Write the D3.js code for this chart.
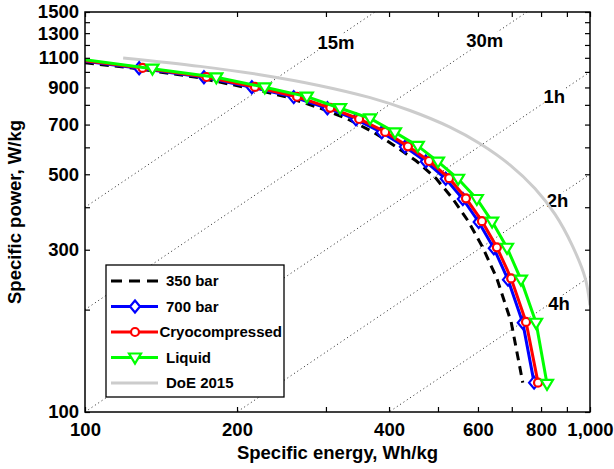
<!DOCTYPE html>
<html>
<head>
<meta charset="utf-8">
<script src="https://cdn.jsdelivr.net/npm/d3@7"></script>
<style>
  body { margin: 0; background: #fff; }
  text { font-family: 'Liberation Sans', Arial, Helvetica, sans-serif; font-weight: bold; fill: #000; }
</style>
</head>
<body>
<div id="chart"></div>
<script>
// axis ticks
const energyTicks = [100, 200, 300, 400, 500, 600, 700, 800, 900, 1000]
const energyLabels = [100, 200, 400, 600, 800, 1000]
const powerTicks = [100, 200, 300, 400, 500, 600, 700, 800, 900, 1000, 1100, 1200, 1300, 1400, 1500]
const powerLabels = [100, 300, 500, 700, 900, 1100, 1300, 1500]

// discharge time guides (hours) and where their labels sit
const durations = [0.25, 0.5, 1, 2, 4]
const durationNames = ['15m', '30m', '1h', '2h', '4h']
const durationLabelEnergy = [314, 619, 850, 862, 868]
const durationLabelPower = [1225, 1242, 847, 419, 208]

// series (first point is where each line enters at the left axis)
const bar350Energy = [100, 124, 165, 206, 250, 291, 331, 372, 412, 453, 495, 534, 574, 613, 654, 698, 736]
const bar350Power = [1063, 1027, 966, 903, 845, 784, 727, 666, 604, 547, 487, 425, 364, 305, 247, 184, 122]
const bar700Energy = [100, 128, 172, 214, 259, 302, 344, 387, 430, 473, 518, 560, 602, 645, 688, 736, 775]
const bar700Power = [1075, 1025, 964, 901, 843, 782, 725, 664, 602, 545, 485, 423, 362, 303, 245, 183, 122]
const cryoEnergy = [100, 130, 174, 217, 263, 306, 349, 393, 436, 480, 526, 568, 611, 654, 698, 747, 789]
const cryoPower = [1078, 1027, 966, 903, 845, 784, 727, 666, 604, 547, 487, 425, 364, 305, 247, 184, 122]
const liquidEnergy = [100, 136, 182, 227, 275, 320, 367, 411, 456, 500, 548, 597, 640, 685, 730, 782, 822]
const liquidPower = [1085, 1022, 964, 901, 846, 782, 730, 664, 606, 545, 485, 423, 363, 304, 245, 183, 121]
const doeEnergy = [119, 169, 222, 292, 367, 440, 528, 606, 694, 778, 853, 921, 978, 1000]
const doePower = [1099, 1038, 981, 911, 840, 770, 688, 615, 533, 454, 381, 310, 248, 206]

const series = [
  { name: '350 bar', energy: bar350Energy, power: bar350Power, color: '#000', dash: '9,6', marker: null },
  { name: '700 bar', energy: bar700Energy, power: bar700Power, color: '#0000ff', dash: null, marker: 'diamond' },
  { name: 'Cryocompressed', energy: cryoEnergy, power: cryoPower, color: '#ff0000', dash: null, marker: 'circle' },
  { name: 'Liquid', energy: liquidEnergy, power: liquidPower, color: '#00ff00', dash: null, marker: 'triangle' },
  { name: 'DoE 2015', energy: doeEnergy, power: doePower, color: '#cccccc', dash: null, marker: null, smooth: true }
]

const width = 614
const height = 469
const margin = { top: 12, right: 24, bottom: 57, left: 85 }
const innerW = width - margin.left - margin.right
const innerH = height - margin.top - margin.bottom

const svg = d3.select('#chart')
  .append('svg')
  .attr('width', width)
  .attr('height', height)

const xScale = d3.scaleLog().domain([100, 1000]).range([margin.left, margin.left + innerW])
const yScale = d3.scaleLog().domain([100, 1500]).range([margin.top + innerH, margin.top])

svg.append('clipPath').attr('id', 'plotClip')
  .append('rect')
  .attr('x', margin.left).attr('y', margin.top)
  .attr('width', innerW).attr('height', innerH)

const plot = svg.append('g').attr('clip-path', 'url(#plotClip)')

// dotted constant-time lines
const guideLine = d3.line().x((d) => xScale(d[0])).y((d) => yScale(d[1]))
plot.append('g')
  .selectAll('path')
  .data(durations)
  .join('path')
  .attr('d', (t) => guideLine([[100, 100 / t], [1000, 1000 / t]]))
  .attr('fill', 'none')
  .attr('stroke', '#222')
  .attr('stroke-width', 1)
  .attr('stroke-dasharray', '1,3')

const labelGroup = plot.append('g')
durationNames.forEach((name, i) => {
  const g = labelGroup.append('g')
  const bg = g.append('rect').attr('fill', '#fff')
  const t = g.append('text')
    .attr('x', xScale(durationLabelEnergy[i]))
    .attr('y', yScale(durationLabelPower[i]))
    .attr('dy', '0.36em')
    .attr('text-anchor', 'middle')
    .attr('font-size', 18.5)
    .text(name)
  const b = t.node().getBBox()
  bg.attr('x', b.x).attr('y', b.y + 2).attr('width', b.width).attr('height', b.height - 4)
})

const markerPath = {
  diamond: 'M0,-6L5,0L0,6L-5,0Z',
  circle: d3.symbol(d3.symbolCircle, Math.PI * 16)(),
  triangle: 'M-6,-4L6,-4L0,6Z'
}

function drawSeries(g, s) {
  const pts = s.energy.map((e, i) => [e, s.power[i]])
  const line = d3.line()
    .x((d) => xScale(d[0]))
    .y((d) => yScale(d[1]))
    .curve(s.smooth ? d3.curveCatmullRom : d3.curveLinear)
  g.append('path')
    .attr('d', line(pts))
    .attr('fill', 'none')
    .attr('stroke', s.color)
    .attr('stroke-width', 3)
    .attr('stroke-dasharray', s.dash)
  if (s.marker) {
    g.selectAll('.mk')
      .data(pts.slice(1))
      .join('path')
      .attr('class', 'mk')
      .attr('transform', (d) => `translate(${xScale(d[0])},${yScale(d[1])})`)
      .attr('d', markerPath[s.marker])
      .attr('fill', '#fff')
      .attr('stroke', s.color)
      .attr('stroke-width', 2.2)
  }
}

// DoE behind the others
drawSeries(plot.append('g'), series[4])
series.slice(0, 4).forEach((s) => drawSeries(plot.append('g'), s))

// axes, ticks pointing inwards on all four sides
const fmtEnergy = (d) => (energyLabels.includes(d) ? d3.format(',')(d) : '')
const fmtPower = (d) => (powerLabels.includes(d) ? d : '')

const axisStyle = (g) => {
  g.select('.domain').remove()
  g.selectAll('.tick line').attr('stroke', '#000').attr('stroke-width', 1.2)
  g.selectAll('.tick text').attr('font-size', 18.5).attr('fill', '#000')
    .style('font-family', "'Liberation Sans', Arial, sans-serif").style('font-weight', 'bold')
}

svg.append('g')
  .attr('transform', `translate(0,${margin.top + innerH})`)
  .call(d3.axisBottom(xScale).tickValues(energyTicks).tickFormat(fmtEnergy).tickSize(-5).tickPadding(11))
  .call(axisStyle)
svg.append('g')
  .attr('transform', `translate(0,${margin.top})`)
  .call(d3.axisTop(xScale).tickValues(energyTicks).tickFormat('').tickSize(-5))
  .call(axisStyle)
svg.append('g')
  .attr('transform', `translate(${margin.left},0)`)
  .call(d3.axisLeft(yScale).tickValues(powerTicks).tickFormat(fmtPower).tickSize(-5).tickPadding(6))
  .call(axisStyle)
svg.append('g')
  .attr('transform', `translate(${margin.left + innerW},0)`)
  .call(d3.axisRight(yScale).tickValues(powerTicks).tickFormat('').tickSize(-5))
  .call(axisStyle)

svg.append('rect')
  .attr('x', margin.left).attr('y', margin.top)
  .attr('width', innerW).attr('height', innerH)
  .attr('fill', 'none')
  .attr('stroke', '#000')
  .attr('stroke-width', 1.5)

svg.append('text')
  .attr('x', margin.left + innerW / 2)
  .attr('y', 459)
  .attr('text-anchor', 'middle')
  .attr('font-size', 18.5)
  .text('Specific energy, Wh/kg')

svg.append('text')
  .attr('transform', `translate(21,${margin.top + innerH / 2}) rotate(-90)`)
  .attr('text-anchor', 'middle')
  .attr('font-size', 18.5)
  .text('Specific power, W/kg')

// legend
const legendBox = { x: 106, y: 265, w: 178, h: 132 }
const legend = svg.append('g')
legend.append('rect')
  .attr('x', legendBox.x).attr('y', legendBox.y)
  .attr('width', legendBox.w).attr('height', legendBox.h)
  .attr('fill', '#fff').attr('stroke', '#000').attr('stroke-width', 1.3)

series.forEach((s, i) => {
  const cy = legendBox.y + 16 + i * 25.5
  const g = legend.append('g')
  g.append('line')
    .attr('x1', legendBox.x + 5).attr('x2', legendBox.x + 52)
    .attr('y1', cy).attr('y2', cy)
    .attr('stroke', s.color).attr('stroke-width', 3)
    .attr('stroke-dasharray', s.dash ? '11,7' : null)
  if (s.marker) {
    g.append('path')
      .attr('transform', `translate(${legendBox.x + 29},${cy})`)
      .attr('d', markerPath[s.marker])
      .attr('fill', '#fff').attr('stroke', s.color).attr('stroke-width', 2.2)
  }
  const t = g.append('text')
    .attr('x', legendBox.x + 60)
    .attr('y', cy)
    .attr('dy', '0.36em')
    .attr('font-size', 15)
    .text(s.name)
  const w = t.node().getComputedTextLength()
  const maxX = legendBox.x + legendBox.w - 2 - w
  if (legendBox.x + 60 > maxX) t.attr('x', maxX)
})
</script>
</body>
</html>
